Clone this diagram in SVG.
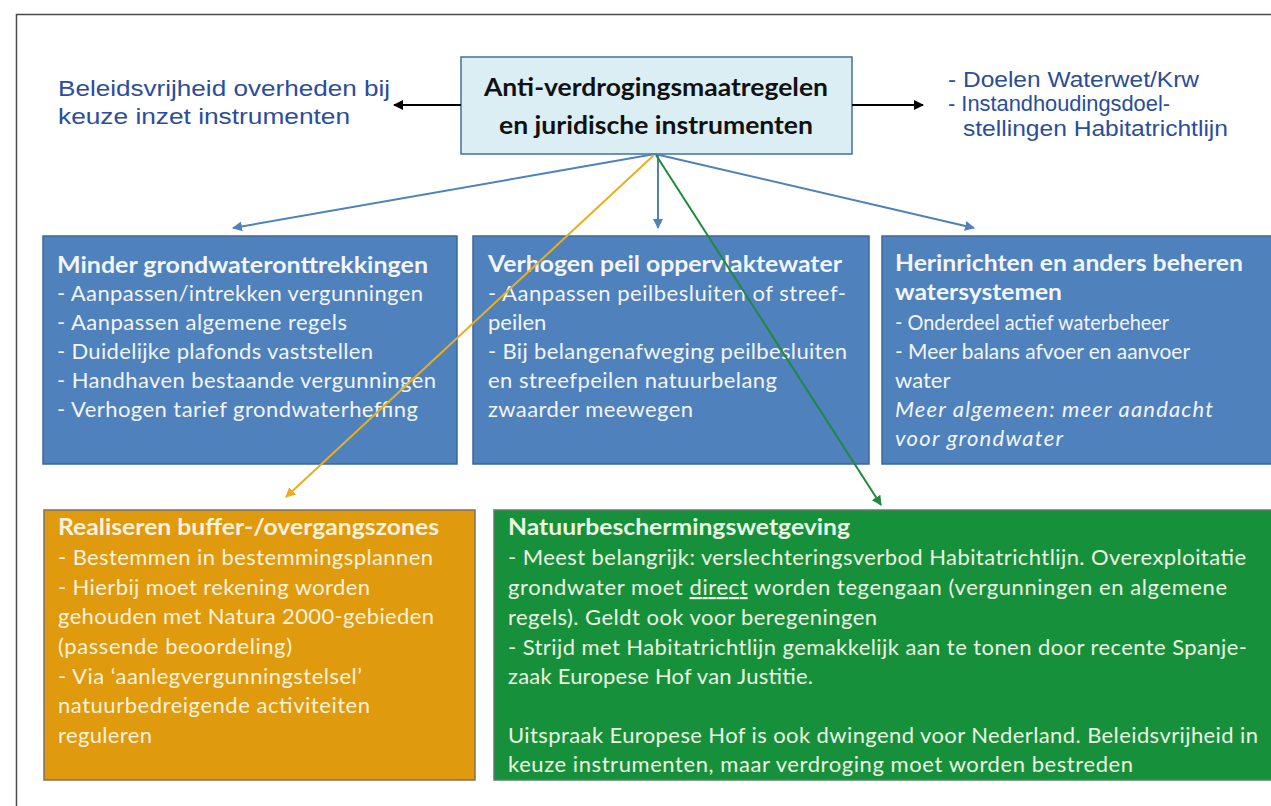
<svg xmlns="http://www.w3.org/2000/svg" width="1271" height="806" viewBox="0 0 1271 806">
<style>
.frame{fill:none;stroke:#4a4a4a;stroke-width:1.5}
.ext{font-family:"Liberation Sans",Arial,sans-serif;font-size:22px;fill:#2a4d9c}
.c{font-family:Lato,"Open Sans",sans-serif;font-size:22px}
.h{font-size:24.5px}
.b{font-weight:bold}
.i{font-style:italic}
.wb{fill:#f2f5fa}
.wo{fill:#fbf1dc}
.wg{fill:#eaf6e2}
.blue{fill:#4f81bd;stroke:#3b679c;stroke-width:1.5}
</style>
<defs>
<marker id="ab" viewBox="0 0 10 10" refX="9" refY="5" markerWidth="10" markerHeight="10" markerUnits="userSpaceOnUse" orient="auto"><path d="M0,0 L10,5 L0,10 z" fill="#4f81bd"/></marker>
<marker id="ay" viewBox="0 0 10 10" refX="9" refY="5" markerWidth="10" markerHeight="10" markerUnits="userSpaceOnUse" orient="auto"><path d="M0,0 L10,5 L0,10 z" fill="#e9ae1e"/></marker>
<marker id="ag" viewBox="0 0 10 10" refX="9" refY="5" markerWidth="10" markerHeight="10" markerUnits="userSpaceOnUse" orient="auto"><path d="M0,0 L10,5 L0,10 z" fill="#1f8a3e"/></marker>
<marker id="ak" viewBox="0 0 10 10" refX="9" refY="5" markerWidth="10" markerHeight="10" markerUnits="userSpaceOnUse" orient="auto"><path d="M0,0 L10,5 L0,10 z" fill="#000"/></marker>
</defs>
<rect width="1271" height="806" fill="#ffffff"/>
<path class="frame" d="M16.5,806 V14.5 H1271"/>

<g id="left-note">
<text class="ext" x="58" y="96" textLength="332" lengthAdjust="spacingAndGlyphs">Beleidsvrijheid overheden bij</text>
<text class="ext" x="58" y="124" textLength="292" lengthAdjust="spacingAndGlyphs">keuze inzet instrumenten</text>
</g>
<g id="right-note">
<text class="ext" x="948" y="87" textLength="251" lengthAdjust="spacingAndGlyphs">- Doelen Waterwet/Krw</text>
<text class="ext" x="948" y="111" textLength="222" lengthAdjust="spacingAndGlyphs">- Instandhoudingsdoel-</text>
<text class="ext" x="963" y="136" textLength="265" lengthAdjust="spacingAndGlyphs">stellingen Habitatrichtlijn</text>
</g>

<g id="central">
<rect x="461" y="57" width="391" height="97" fill="#dbeef4" stroke="#41719c" stroke-width="1.5"/>
<text class="c h b" x="484" y="96" fill="#111" textLength="344" lengthAdjust="spacingAndGlyphs">Anti-verdrogingsmaatregelen</text>
<text class="c h b" x="499" y="134" fill="#111" textLength="314" lengthAdjust="spacingAndGlyphs">en juridische instrumenten</text>
</g>

<g id="box-grondwater">
<rect class="blue" x="43" y="236" width="414" height="228"/>
<text class="c b wb" x="57" y="273" textLength="371" lengthAdjust="spacingAndGlyphs">Minder grondwateronttrekkingen</text>
<text class="c wb" x="57" y="301" textLength="366">- Aanpassen/intrekken vergunningen</text>
<text class="c wb" x="57" y="330" textLength="290">- Aanpassen algemene regels</text>
<text class="c wb" x="57" y="359" textLength="316">- Duidelijke plafonds vaststellen</text>
<text class="c wb" x="57" y="388" textLength="379">- Handhaven bestaande vergunningen</text>
<text class="c wb" x="57" y="417" textLength="361">- Verhogen tarief grondwaterheffing</text>
</g>

<g id="box-peil">
<rect class="blue" x="473" y="236" width="396" height="228"/>
<text class="c b wb" x="488" y="272" textLength="354" lengthAdjust="spacingAndGlyphs">Verhogen peil oppervlaktewater</text>
<text class="c wb" x="488" y="301" textLength="358">- Aanpassen peilbesluiten of streef-</text>
<text class="c wb" x="488" y="330">peilen</text>
<text class="c wb" x="488" y="359" textLength="359">- Bij belangenafweging peilbesluiten</text>
<text class="c wb" x="488" y="388" textLength="289">en streefpeilen natuurbelang</text>
<text class="c wb" x="488" y="417" textLength="205">zwaarder meewegen</text>
</g>

<g id="box-herinrichten">
<rect class="blue" x="882" y="236" width="400" height="228"/>
<text class="c b wb" x="895" y="271" textLength="348" lengthAdjust="spacingAndGlyphs">Herinrichten en anders beheren</text>
<text class="c b wb" x="895" y="300" textLength="167" lengthAdjust="spacingAndGlyphs">watersystemen</text>
<text class="c wb" x="895" y="330" textLength="274" lengthAdjust="spacingAndGlyphs">- Onderdeel actief waterbeheer</text>
<text class="c wb" x="895" y="359" textLength="295" lengthAdjust="spacingAndGlyphs">- Meer balans afvoer en aanvoer</text>
<text class="c wb" x="895" y="388">water</text>
<text class="c i wb" x="895" y="417" textLength="318">Meer algemeen: meer aandacht</text>
<text class="c i wb" x="895" y="446" textLength="168">voor grondwater</text>
</g>

<g id="box-buffer">
<rect x="44" y="510" width="431" height="270" fill="#df9a0e" stroke="#7d7260" stroke-width="1.5"/>
<text class="c b wo" x="58" y="535" textLength="381" lengthAdjust="spacingAndGlyphs">Realiseren buffer-/overgangszones</text>
<text class="c wo" x="58" y="565" textLength="375">- Bestemmen in bestemmingsplannen</text>
<text class="c wo" x="58" y="595" textLength="312">- Hierbij moet rekening worden</text>
<text class="c wo" x="58" y="624" textLength="376">gehouden met Natura 2000-gebieden</text>
<text class="c wo" x="58" y="654" textLength="234">(passende beoordeling)</text>
<text class="c wo" x="58" y="684" textLength="304">- Via ‘aanlegvergunningstelsel’</text>
<text class="c wo" x="58" y="713" textLength="312">natuurbedreigende activiteiten</text>
<text class="c wo" x="58" y="743" textLength="94">reguleren</text>
</g>

<g id="box-natuur">
<rect x="494" y="510" width="790" height="270" fill="#17903b" stroke="#5b7f6b" stroke-width="1.5"/>
<text class="c b wg" x="508" y="535" textLength="342" lengthAdjust="spacingAndGlyphs">Natuurbeschermingswetgeving</text>
<text class="c wg" x="508" y="565" textLength="738">- Meest belangrijk: verslechteringsverbod Habitatrichtlijn. Overexploitatie</text>
<text class="c wg" x="508" y="595" textLength="719">grondwater moet <tspan text-decoration="underline">direct</tspan> worden tegengaan (vergunningen en algemene</text>
<text class="c wg" x="508" y="625" textLength="369">regels). Geldt ook voor beregeningen</text>
<text class="c wg" x="508" y="655" textLength="739">- Strijd met Habitatrichtlijn gemakkelijk aan te tonen door recente Spanje-</text>
<text class="c wg" x="508" y="684" textLength="305">zaak Europese Hof van Justitie.</text>
<text class="c wg" x="508" y="743" textLength="750">Uitspraak Europese Hof is ook dwingend voor Nederland. Beleidsvrijheid in</text>
<text class="c wg" x="508" y="772" textLength="625">keuze instrumenten, maar verdroging moet worden bestreden</text>
</g>

<g id="connectors" fill="none" stroke-width="2">
<line x1="461" y1="105" x2="394" y2="105" stroke="#000" marker-end="url(#ak)"/>
<line x1="852" y1="105" x2="923" y2="105" stroke="#000" marker-end="url(#ak)"/>
<line x1="655" y1="154" x2="233" y2="228" stroke="#4f81bd" marker-end="url(#ab)"/>
<line x1="658" y1="154" x2="658" y2="228" stroke="#4f81bd" marker-end="url(#ab)"/>
<line x1="655" y1="154" x2="974" y2="228" stroke="#4f81bd" marker-end="url(#ab)"/>
<line x1="654" y1="155" x2="286" y2="497" stroke="#e9ae1e" marker-end="url(#ay)"/>
<line x1="656" y1="155" x2="881" y2="505" stroke="#1f8a3e" marker-end="url(#ag)"/>
</g>
</svg>
